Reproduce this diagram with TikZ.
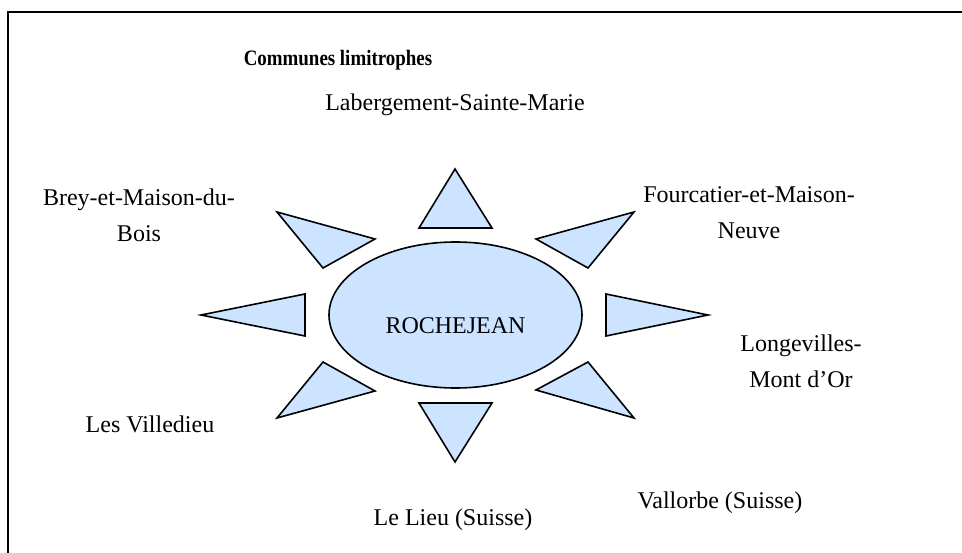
\documentclass[tikz,border=0pt]{standalone}
\usepackage{fontspec}
\setmainfont{Liberation Serif}
\newfontfamily\titlefont[FakeStretch=0.86]{Liberation Serif}
\usetikzlibrary{shapes.geometric}
\definecolor{sunfill}{RGB}{204,228,255}
\begin{document}
\begin{tikzpicture}[x=1pt,y=-1pt,
  lbl/.style={font=\fontsize{24}{36}\selectfont, align=center, inner sep=0pt},
  ttl/.style={font=\titlefont\bfseries\fontsize{22}{26}\selectfont, inner sep=0pt},
  ray/.style={draw=black, fill=sunfill, line width=1.6pt, line join=miter},
  sun/.style={ellipse, draw=black, fill=sunfill, line width=1.6pt, minimum width=253pt, minimum height=146pt, inner sep=0pt},
]
\useasboundingbox (0,0) rectangle (962,553);
\draw[line width=2pt] (8,553) -- (8,12) -- (962,12);

% title
\node[ttl] (title) at (338,60) {Communes limitrophes};

% centre
\node[sun] (rj) at (455.5,315) {};
\node[lbl] (rjtext) at (455.5,326) {ROCHEJEAN};

% rays
\filldraw[ray] (455,169) -- (492,228) -- (419,228) -- cycle;          % top
\filldraw[ray] (634,212) -- (536,239) -- (588,268) -- cycle;          % upper right
\filldraw[ray] (708,315) -- (606,294) -- (606,336) -- cycle;          % right
\filldraw[ray] (634,418) -- (536,390) -- (588,362) -- cycle;          % lower right
\filldraw[ray] (455,462) -- (492,403) -- (419,403) -- cycle;          % bottom
\filldraw[ray] (277,418) -- (375,391) -- (323,362) -- cycle;          % lower left
\filldraw[ray] (201,315) -- (305,294) -- (305,336) -- cycle;          % left
\filldraw[ray] (277,212) -- (375,239) -- (323,268) -- cycle;          % upper left

% labels
\node[lbl] (lab) at (455,105) {Labergement-Sainte-Marie};
\node[lbl] (brey) at (139,215) {Brey-et-Maison-du-\\Bois};
\node[lbl] (four) at (749,213) {Fourcatier-et-Maison-\\Neuve};
\node[lbl] (long) at (801,361) {Longevilles-\\Mont d’Or};
\node[lbl] (vill) at (150,424) {Les Villedieu};
\node[lbl] (lieu) at (453,520) {Le Lieu (Suisse)};
\node[lbl] (vall) at (720,503) {Vallorbe (Suisse)};
\end{tikzpicture}
\end{document}
